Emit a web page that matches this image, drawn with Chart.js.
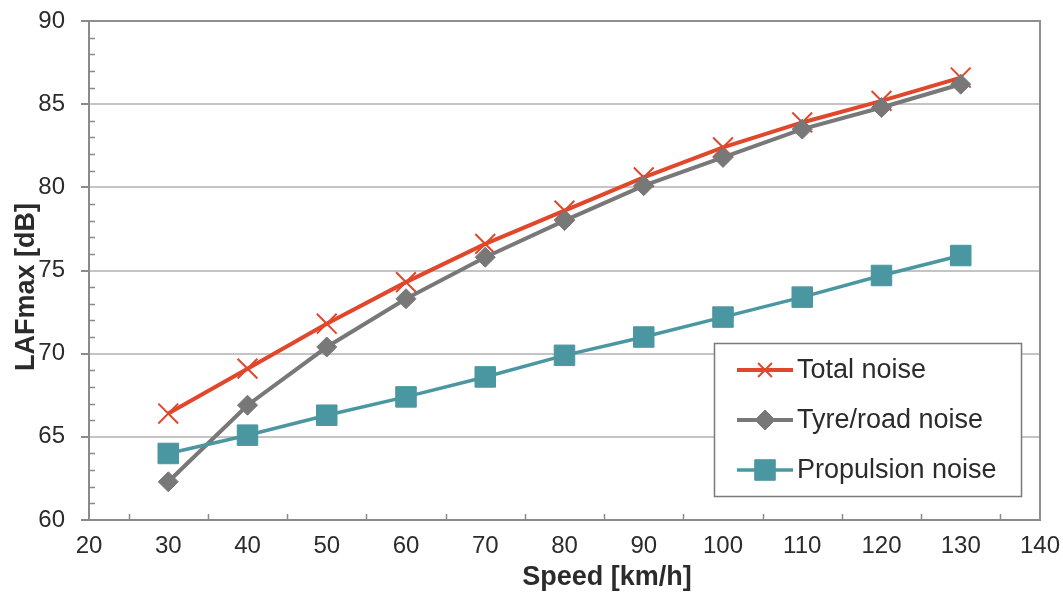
<!DOCTYPE html>
<html>
<head>
<meta charset="utf-8">
<script src="https://cdn.jsdelivr.net/npm/chart.js@4"></script>
<style>
  html, body { margin: 0; padding: 0; background: #fff; }
  #wrap { width: 1063px; height: 594px; }
</style>
</head>
<body>
<div id="wrap"><canvas id="c" width="1063" height="594"></canvas></div>
<script>
// Speeds in km/h
const speeds = [30, 40, 50, 60, 70, 80, 90, 100, 110, 120, 130];
// Maximum A-weighted sound level (dB) for each noise source
const totalNoise = [66.4, 69.1, 71.8, 74.3, 76.6, 78.6, 80.6, 82.4, 83.9, 85.2, 86.6];
const tyreRoadNoise = [62.3, 66.9, 70.4, 73.3, 75.8, 78.0, 80.1, 81.8, 83.5, 84.8, 86.2];
const propulsionNoise = [64.0, 65.1, 66.3, 67.4, 68.6, 69.9, 71.0, 72.2, 73.4, 74.7, 75.9];
const seriesLabels = ['Total noise', 'Tyre/road noise', 'Propulsion noise'];
const xTicks = [20, 30, 40, 50, 60, 70, 80, 90, 100, 110, 120, 130, 140];
const yTicks = [60, 65, 70, 75, 80, 85, 90];
const xTitle = 'Speed [km/h]';
const yTitle = 'LAFmax [dB]';

const RED = '#e0472b', GREY = '#787878', TEAL = '#4b97a1';
const FONT = '"Liberation Sans", Arial, sans-serif';
const TEXT = '#2b2b2b';

function pts(vals) { return speeds.map((s, i) => ({ x: s, y: vals[i] })); }

// Minor ticks, plot frame, axis titles and the boxed legend inside the plot
const decorations = {
  id: 'decorations',
  beforeDatasetsDraw(chart) {
    const { ctx, chartArea: a, scales: { x, y } } = chart;
    ctx.save();
    ctx.strokeStyle = '#8f8f8f';
    ctx.lineWidth = 2;
    // top and right frame
    ctx.beginPath();
    ctx.moveTo(a.left, a.top); ctx.lineTo(a.right, a.top); ctx.lineTo(a.right, a.bottom);
    ctx.stroke();
    ctx.strokeStyle = '#8a8a8a';
    ctx.lineWidth = 1.5;
    // y minor ticks (inside)
    for (let v = 60; v <= 90; v += 1) {
      if (v % 5 === 0) continue;
      const py = Math.round(y.getPixelForValue(v)) + 0.5;
      ctx.beginPath(); ctx.moveTo(a.left, py); ctx.lineTo(a.left + 6, py); ctx.stroke();
    }
    // x minor ticks (inside)
    for (let v = 25; v < 140; v += 10) {
      const px = Math.round(x.getPixelForValue(v)) + 0.5;
      ctx.beginPath(); ctx.moveTo(px, a.bottom); ctx.lineTo(px, a.bottom - 6); ctx.stroke();
    }
    // axis titles
    ctx.fillStyle = TEXT;
    ctx.font = 'bold 27px ' + FONT;
    ctx.textAlign = 'center';
    ctx.textBaseline = 'alphabetic';
    ctx.fillText(xTitle, a.left + 518, a.bottom + 65);
    ctx.save();
    ctx.translate(34, a.top + 266);
    ctx.rotate(-Math.PI / 2);
    ctx.fillText(yTitle, 0, 0);
    ctx.restore();
    ctx.restore();
  },
  afterDraw(chart) {
    const { ctx, chartArea: a } = chart;
    const bx = a.right - 326, by = a.bottom - 177, bw = 307, bh = 153;
    const entries = chart.data.datasets.slice().sort((p, q) => q.order - p.order);
    ctx.save();
    ctx.fillStyle = '#fff';
    ctx.fillRect(bx, by, bw, bh);
    ctx.strokeStyle = '#7a7a7a';
    ctx.lineWidth = 1.5;
    ctx.strokeRect(bx + 0.5, by + 0.5, bw, bh);
    entries.forEach((ds, i) => {
      const cy = by + 27 + i * 50;
      const x0 = bx + 23, x1 = bx + 79, xm = (x0 + x1) / 2;
      ctx.strokeStyle = ds.borderColor;
      ctx.lineWidth = ds.borderWidth;
      ctx.beginPath(); ctx.moveTo(x0, cy); ctx.lineTo(x1, cy); ctx.stroke();
      ctx.fillStyle = ds.pointBackgroundColor;
      ctx.strokeStyle = ds.pointBorderColor;
      ctx.lineWidth = ds.pointBorderWidth;
      Chart.helpers.drawPoint(ctx, {
        pointStyle: ds.pointStyle,
        radius: ds.pointRadius * (i === 0 ? 0.7 : 1),
        borderWidth: ds.pointBorderWidth
      }, xm, cy);
      ctx.fillStyle = TEXT;
      ctx.font = '27px ' + FONT;
      ctx.textBaseline = 'middle';
      ctx.textAlign = 'left';
      ctx.fillText(ds.label, x1 + 4, cy + 1);
    });
    ctx.restore();
  }
};

new Chart(document.getElementById('c'), {
  type: 'line',
  data: {
    datasets: [
      {
        label: seriesLabels[0], data: pts(totalNoise), order: 3,
        borderColor: RED, borderWidth: 4,
        pointStyle: 'crossRot', pointRadius: 14, pointBorderWidth: 2,
        pointBackgroundColor: RED, pointBorderColor: RED
      },
      {
        label: seriesLabels[1], data: pts(tyreRoadNoise), order: 2,
        borderColor: GREY, borderWidth: 4,
        pointStyle: 'rectRot', pointRadius: 10, pointBorderWidth: 1,
        pointBackgroundColor: GREY, pointBorderColor: GREY
      },
      {
        label: seriesLabels[2], data: pts(propulsionNoise), order: 1,
        borderColor: TEAL, borderWidth: 3.5,
        pointStyle: 'rect', pointRadius: 14.5, pointBorderWidth: 1,
        pointBackgroundColor: TEAL, pointBorderColor: TEAL
      }
    ]
  },
  options: {
    responsive: false,
    animation: false,
    devicePixelRatio: 1,
    layout: { padding: { top: 21, right: 23, left: 0, bottom: 0 } },
    plugins: { legend: { display: false }, tooltip: { enabled: false } },
    scales: {
      x: {
        type: 'linear', min: 20, max: 140,
        afterBuildTicks(s) { s.ticks = xTicks.map(v => ({ value: v })); },
        afterFit(s) { s.height = 74; s.paddingLeft = 0; s.paddingRight = 0; },
        grid: { display: false, drawOnChartArea: false, drawTicks: true, tickLength: 8, color: '#8a8a8a', lineWidth: 2 },
        border: { display: true, color: '#8a8a8a', width: 2 },
        ticks: { color: TEXT, font: { family: FONT, size: 24 }, padding: 4, maxRotation: 0 },
        title: { display: false }
      },
      y: {
        type: 'linear', min: 60, max: 90,
        afterBuildTicks(s) { s.ticks = yTicks.map(v => ({ value: v })); },
        afterFit(s) { s.width = 89; s.paddingTop = 0; s.paddingBottom = 0; },
        grid: { color: '#c4c4c4', lineWidth: 2, tickColor: '#8a8a8a', tickLength: 8, drawTicks: true },
        border: { display: true, color: '#8a8a8a', width: 2 },
        ticks: { color: TEXT, font: { family: FONT, size: 24 }, padding: 16 },
        title: { display: false }
      }
    }
  },
  plugins: [decorations]
});
</script>
</body>
</html>
